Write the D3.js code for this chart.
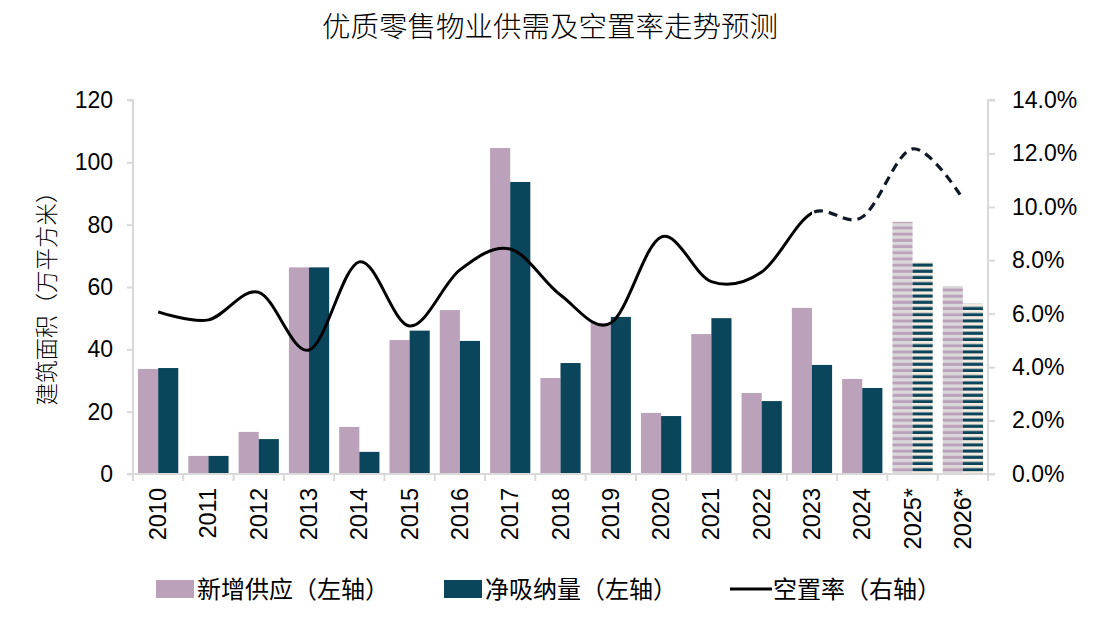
<!DOCTYPE html>
<html>
<head>
<meta charset="utf-8">
<script src="https://cdn.jsdelivr.net/npm/d3@7"></script>
<style>
  html, body { margin: 0; padding: 0; background: #fff; }
  svg { display: block; }
  text { font-family: "Liberation Sans", Arial, sans-serif; fill: #000; }
  .cjk { font-family: "Noto Sans CJK SC", sans-serif; }
</style>
</head>
<body>
<svg id="chart" width="1094" height="625"></svg>
<script>
// ---------- data ----------
const years = ["2010","2011","2012","2013","2014","2015","2016","2017","2018","2019","2020","2021","2022","2023","2024","2025*","2026*"];
const supply = [33.7, 5.8, 13.5, 66.3, 15.1, 43.0, 52.6, 104.6, 30.8, 48.5, 19.6, 44.9, 26.0, 53.3, 30.5, 80.9, 60.3];
const netAbsorption = [34.0, 5.8, 11.2, 66.3, 7.1, 46.0, 42.7, 93.7, 35.6, 50.4, 18.6, 50.0, 23.4, 35.0, 27.6, 68.0, 54.6];
const vacancy = [6.07, 5.77, 6.8, 4.64, 7.94, 5.54, 7.64, 8.42, 6.7, 5.65, 8.87, 7.2, 7.56, 9.77, 9.62, 12.17, 10.3];
const forecastYears = ["2025*","2026*"];
const dashFrom = "2023";
const leftTicks = [0, 20, 40, 60, 80, 100, 120];
const rightTicks = [0, 2, 4, 6, 8, 10, 12, 14];
const title = "优质零售物业供需及空置率走势预测";
const yTitle = "建筑面积（万平方米）";
const legendLabels = ["新增供应（左轴）", "净吸纳量（左轴）", "空置率（右轴）"];

(function () {
// ---------- styles ----------
const cSupply = "#bca1bb", cNet = "#0b455c", cAxis = "#d9d9d9";
const pLeft = 133, pRight = 988, pTop = 100, pBottom = 474;

const svg = d3.select("#chart");
const defs = svg.append("defs");

function stripe(id, c1, c2) {
  const p = defs.append("pattern").attr("id", id).attr("patternUnits", "userSpaceOnUse")
    .attr("width", 8).attr("height", 6.2);
  p.append("rect").attr("width", 8).attr("height", 3.1).attr("fill", c2);
  p.append("rect").attr("y", 3.1).attr("width", 8).attr("height", 3.1).attr("fill", c1);
}
stripe("pSupply", cSupply, "#d9d9d9");
stripe("pNet", cNet, "#f3e9dc");

const x = d3.scaleBand().domain(years).range([pLeft, pRight]).paddingInner(0.2).paddingOuter(0.1);
const x1 = d3.scaleBand().domain(["supply", "net"]).range([0, x.bandwidth()]);
const yL = d3.scaleLinear().domain([0, 120]).range([pBottom, pTop]);
const yR = d3.scaleLinear().domain([0, 14]).range([pBottom, pTop]);

// ---------- bars ----------
const rows = years.map((yr, i) => ({ yr, supply: supply[i], net: netAbsorption[i], fc: forecastYears.includes(yr) }));
const g = svg.append("g");
rows.forEach(r => {
  ["supply", "net"].forEach(k => {
    g.append("rect")
      .attr("x", x(r.yr) + x1(k))
      .attr("width", x1.bandwidth())
      .attr("y", yL(r[k]))
      .attr("height", yL(0) - yL(r[k]))
      .attr("fill", r.fc ? (k === "supply" ? "url(#pSupply)" : "url(#pNet)") : (k === "supply" ? cSupply : cNet));
  });
});

// ---------- axes ----------
const axL = d3.axisLeft(yL).tickValues(leftTicks).tickSize(6).tickPadding(14).tickFormat(d3.format("d"));
const gL = svg.append("g").attr("transform", `translate(${pLeft},0)`).call(axL);
const axR = d3.axisRight(yR).tickValues(rightTicks).tickSize(7).tickPadding(17).tickFormat(d => d.toFixed(1) + "%");
const gR = svg.append("g").attr("transform", `translate(${pRight},0)`).call(axR);
[gL, gR].forEach(a => {
  a.select(".domain").attr("stroke", cAxis).attr("stroke-width", 2);
  a.selectAll(".tick line").attr("stroke", cAxis).attr("stroke-width", 2);
  a.selectAll("text").attr("font-size", 23).attr("font-family", "'Liberation Sans', Arial, sans-serif").attr("fill", "#000");
});
gL.select(".domain").attr("d", `M-6,${pTop}H0V${pBottom}H-6`);
gR.select(".domain").attr("d", `M7,${pTop}H0V${pBottom}H7`);

// x axis
const step = x.step();
const bounds = years.map(yr => x(yr) - step * 0.1).concat([pRight]);
const gX = svg.append("g");
gX.append("line").attr("x1", pLeft).attr("x2", pRight).attr("y1", pBottom).attr("y2", pBottom)
  .attr("stroke", cAxis).attr("stroke-width", 2);
gX.selectAll(".xt").data(bounds).join("line")
  .attr("x1", d => d).attr("x2", d => d).attr("y1", pBottom).attr("y2", pBottom + 7)
  .attr("stroke", cAxis).attr("stroke-width", 2);
gX.selectAll(".xl").data(years).join("text")
  .attr("transform", d => `translate(${x(d) + x.bandwidth() / 2 + 8},${pBottom + 14}) rotate(-90)`)
  .attr("text-anchor", "end")
  .attr("font-size", 23.5)
  .text(d => d);

// ---------- vacancy line ----------
const pts = years.map((yr, i) => [x(yr) + x.bandwidth() / 2, yR(vacancy[i])]);
const lineGen = d3.line().curve(d3.curveCardinal.tension(0));
const splitX = x(dashFrom) + x.bandwidth() / 2;
defs.append("clipPath").attr("id", "clipSolid").append("rect")
  .attr("x", 0).attr("y", 0).attr("width", splitX).attr("height", 625);
defs.append("clipPath").attr("id", "clipDash").append("rect")
  .attr("x", splitX).attr("y", 0).attr("width", 1094 - splitX).attr("height", 625);
svg.append("path").attr("d", lineGen(pts)).attr("fill", "none").attr("stroke", "#000")
  .attr("stroke-width", 3).attr("clip-path", "url(#clipSolid)");
svg.append("path").attr("d", lineGen(pts)).attr("fill", "none").attr("stroke", "#111827")
  .attr("stroke-width", 3.2).attr("stroke-dasharray", "9,6").attr("clip-path", "url(#clipDash)");

// ---------- titles ----------
svg.append("text").attr("class", "cjk").attr("x", 550).attr("y", 37)
  .attr("text-anchor", "middle").attr("font-size", 28.5).attr("font-weight", 300).text(title);
svg.append("text").attr("class", "cjk")
  .attr("transform", `translate(55,293) rotate(-90)`)
  .attr("text-anchor", "middle").attr("font-size", 22.5).attr("font-weight", 300).text(yTitle);

// ---------- legend ----------
const lg = svg.append("g");
const ly = 589;
lg.append("rect").attr("x", 156).attr("y", ly - 9).attr("width", 38).attr("height", 18).attr("fill", cSupply);
lg.append("text").attr("class", "cjk").attr("x", 197).attr("y", ly + 9).attr("font-size", 24).text(legendLabels[0]);
lg.append("rect").attr("x", 444).attr("y", ly - 9).attr("width", 38).attr("height", 18).attr("fill", cNet);
lg.append("text").attr("class", "cjk").attr("x", 485).attr("y", ly + 9).attr("font-size", 24).text(legendLabels[1]);
lg.append("line").attr("x1", 730).attr("x2", 772).attr("y1", ly).attr("y2", ly).attr("stroke", "#000").attr("stroke-width", 3);
lg.append("text").attr("class", "cjk").attr("x", 773).attr("y", ly + 9).attr("font-size", 24).text(legendLabels[2]);
})();
</script>
</body>
</html>
